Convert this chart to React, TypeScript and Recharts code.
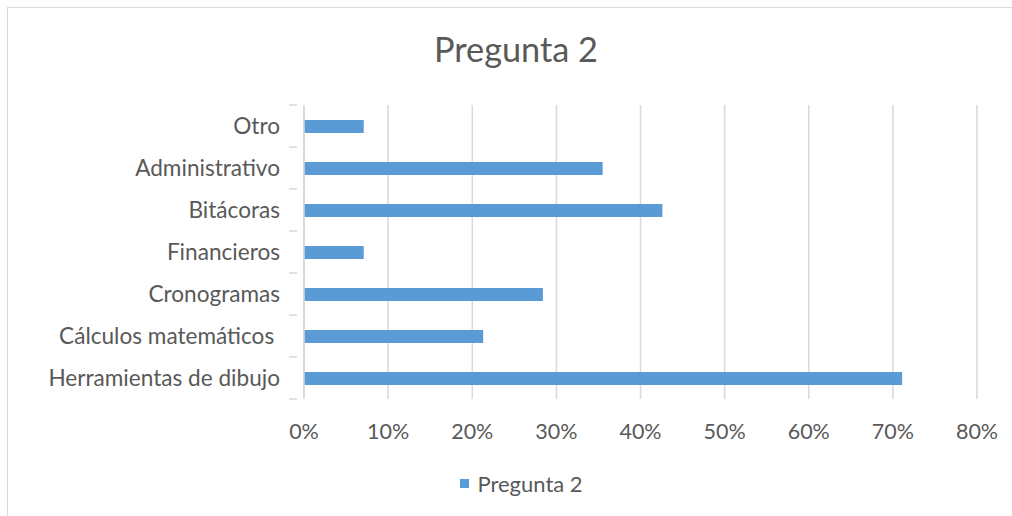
import { BarChart, Bar, XAxis, YAxis, CartesianGrid } from 'recharts'

const categories = [
  'Otro',
  'Administrativo',
  'Bitácoras',
  'Financieros',
  'Cronogramas',
  'Cálculos matemáticos ',
  'Herramientas de dibujo',
]
const pregunta2 = [7.1, 35.5, 42.6, 7.1, 28.4, 21.3, 71.1]
const percentTicks = [0, 10, 20, 30, 40, 50, 60, 70, 80]

const seriesName = 'Pregunta 2'
const font = 'Lato, "Open Sans", sans-serif'
const textColor = '#595959'
const gridColor = '#d9d9d9'
const barColor = '#5b9bd5'

const data = categories.map((name, i) => ({ name, value: pregunta2[i] }))

// eslint-disable-next-line @typescript-eslint/no-explicit-any
function CategoryTick({ x, y, payload, index }: any) {
  // tick marks sit on the band edges, label in the middle of the band
  const half = 21
  return (
    <g>
      {index === 0 && <line x1={x - 7} x2={x + 1} y1={y - half} y2={y - half} stroke={gridColor} strokeWidth={1.5} />}
      <line x1={x - 7} x2={x + 1} y1={y + half} y2={y + half} stroke={gridColor} strokeWidth={1.5} />
      <text
        x={x - 16}
        y={y}
        dy={8}
        textAnchor="end"
        fill={textColor}
        fontSize={22.6}
        fontFamily={font}
        style={{ whiteSpace: 'pre' }}
      >
        {payload.value}
      </text>
    </g>
  )
}

// eslint-disable-next-line @typescript-eslint/no-explicit-any
function PercentTick({ x, y, payload }: any) {
  return (
    <text x={x} y={y} dy={32} textAnchor="middle" fill={textColor} fontSize={21.5} fontFamily={font}>
      {`${payload.value}%`}
    </text>
  )
}

export default function App() {
  return (
    <div
      style={{
        position: 'absolute',
        left: 0,
        top: 0,
        width: 1012,
        height: 516,
        overflow: 'hidden',
        background: '#fff',
      }}
    >
      <div
        style={{
          position: 'absolute',
          left: 7,
          top: 7,
          width: 1010,
          height: 512,
          borderLeft: `1.5px solid ${gridColor}`,
          borderTop: `1.5px solid ${gridColor}`,
        }}
      />
      <div
        style={{
          position: 'absolute',
          left: 0,
          top: 28,
          width: 1032,
          textAlign: 'center',
          fontFamily: font,
          fontSize: 34.3,
          color: textColor,
        }}
      >
        {seriesName}
      </div>
      <div style={{ position: 'absolute', left: 0, top: 0 }}>
        <BarChart
          width={1012}
          height={516}
          data={data}
          layout="vertical"
          margin={{ top: 105, right: 35, left: 0, bottom: 77 }}
          barCategoryGap={14}
        >
          <CartesianGrid horizontal={false} stroke={gridColor} strokeWidth={1.5} />
          <XAxis
            type="number"
            domain={[0, 80]}
            ticks={percentTicks}
            axisLine={false}
            tickLine={false}
            height={40}
            tick={<PercentTick />}
            interval={0}
          />
          <YAxis
            type="category"
            dataKey="name"
            width={304}
            axisLine={{ stroke: gridColor, strokeWidth: 1.5 }}
            tickLine={false}
            tick={<CategoryTick />}
            interval={0}
          />
          <Bar dataKey="value" name={seriesName} fill={barColor} barSize={13} isAnimationActive={false} />
        </BarChart>
      </div>
      <div
        style={{
          position: 'absolute',
          left: 0,
          top: 470,
          width: 1043,
          display: 'flex',
          justifyContent: 'center',
          alignItems: 'center',
          fontFamily: font,
        }}
      >
        <span style={{ width: 9, height: 9, background: barColor, marginRight: 8 }} />
        <span style={{ color: textColor, fontSize: 22 }}>{seriesName}</span>
      </div>
    </div>
  )
}
